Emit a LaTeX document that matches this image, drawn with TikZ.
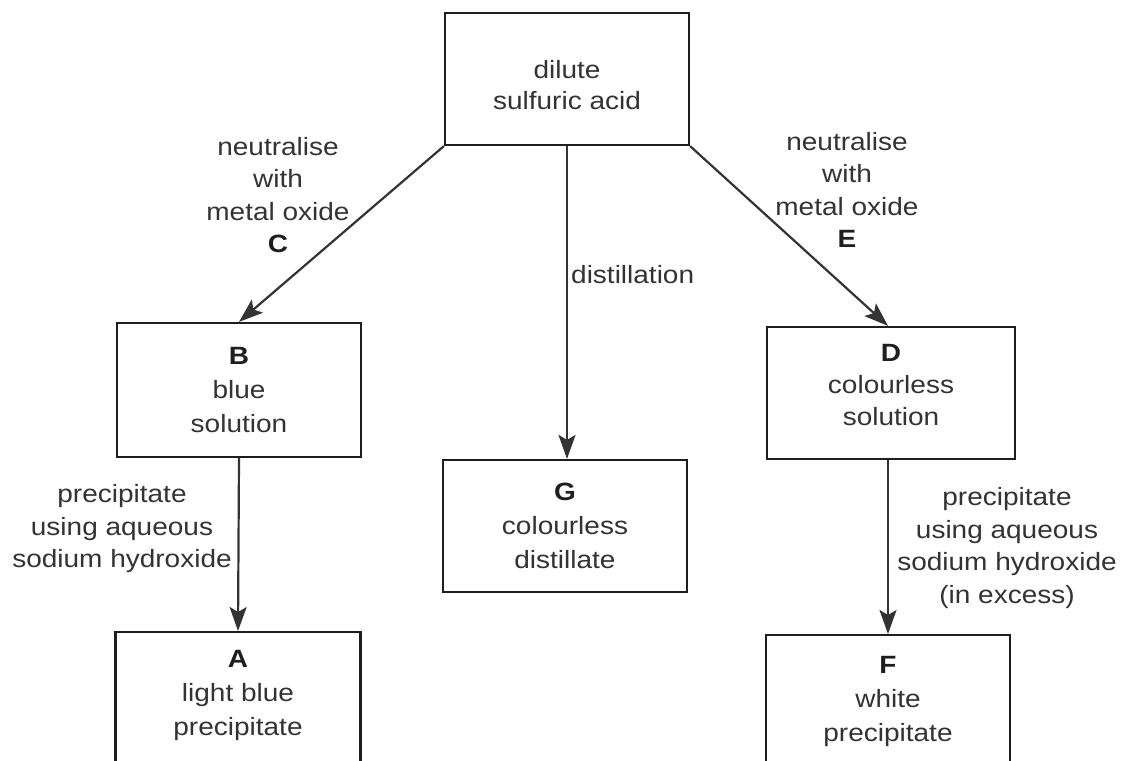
\documentclass[tikz,border=0pt]{standalone}
\usepackage{fontspec}
\setmainfont{Liberation Sans}[FakeStretch=1.12]
\usetikzlibrary{arrows.meta}
\definecolor{ink}{HTML}{333333}
\definecolor{dark}{HTML}{1E1E1E}
\newcommand{\lt}[1]{\textcolor{dark}{\textbf{#1}}}
\tikzset{
  box/.style={draw=dark, line width=2.2pt, fill=white, align=center, inner sep=0pt,
    text=ink, font=\fontsize{25}{34}\selectfont},
  lbl/.style={align=center, inner sep=0pt, text=ink, font=\fontsize{25}{32.5}\selectfont},
  btxt/.style={lbl, font=\fontsize{25}{34}\selectfont},
  conn/.style={draw=ink, line width=2.2pt, -{Stealth[length=24pt,width=17pt,inset=5pt]}}
}
\begin{document}
\begin{tikzpicture}[x=1pt,y=-1pt]
\useasboundingbox (0,0) rectangle (1121,760);
\begin{scope}
\clip (0,0) rectangle (1121,760);
\node[box, minimum width=244, minimum height=132] (top) at (567,79) {};
\node[box, minimum width=244, minimum height=134] (B) at (239,390) {\lt{B}\\blue\\solution};
\node[box, minimum width=244, minimum height=132] (G) at (565,526) {\lt{G}\\colourless\\distillate};
\node[box, minimum width=248, minimum height=132] (D) at (891,393) {};
\node[box, minimum width=245, minimum height=200, anchor=north] (A) at (238,631) {};
\node[box, minimum width=244, minimum height=200, anchor=north] (F) at (888,634) {};
\node[btxt, font=\fontsize{25}{31}\selectfont] (topt) at (567,85) {dilute\\sulfuric acid};
\node[btxt, font=\fontsize{25}{32}\selectfont] (Dt) at (891,385) {\lt{D}\\colourless\\solution};
\node[btxt] (At) at (238,695) {\lt{A}\\light blue\\precipitate};
\node[btxt] (Ft) at (888,701) {\lt{F}\\white\\precipitate};

\draw[conn] (top.south west) -- (B.north);
\draw[conn] (top.south) -- (top.south |- G.north);
\draw[conn] (top.south east) -- (D.north -| F.north);
\draw[conn] (B.south) -- (A.north);
\draw[conn] (F.north |- D.south) -- (F.north);

\node[lbl] (lC) at (278,195) {neutralise\\with\\metal oxide\\\lt{C}};
\node[lbl] (lE) at (847,190) {neutralise\\with\\metal oxide\\\lt{E}};
\node[lbl, anchor=west] (ld) at (571,275) {distillation};
\node[lbl] (lp1) at (122,529) {precipitate\\using aqueous\\sodium hydroxide};
\node[lbl] (lp2) at (1007,548) {precipitate\\using aqueous\\sodium hydroxide\\(in excess)};
\end{scope}
\end{tikzpicture}
\end{document}
